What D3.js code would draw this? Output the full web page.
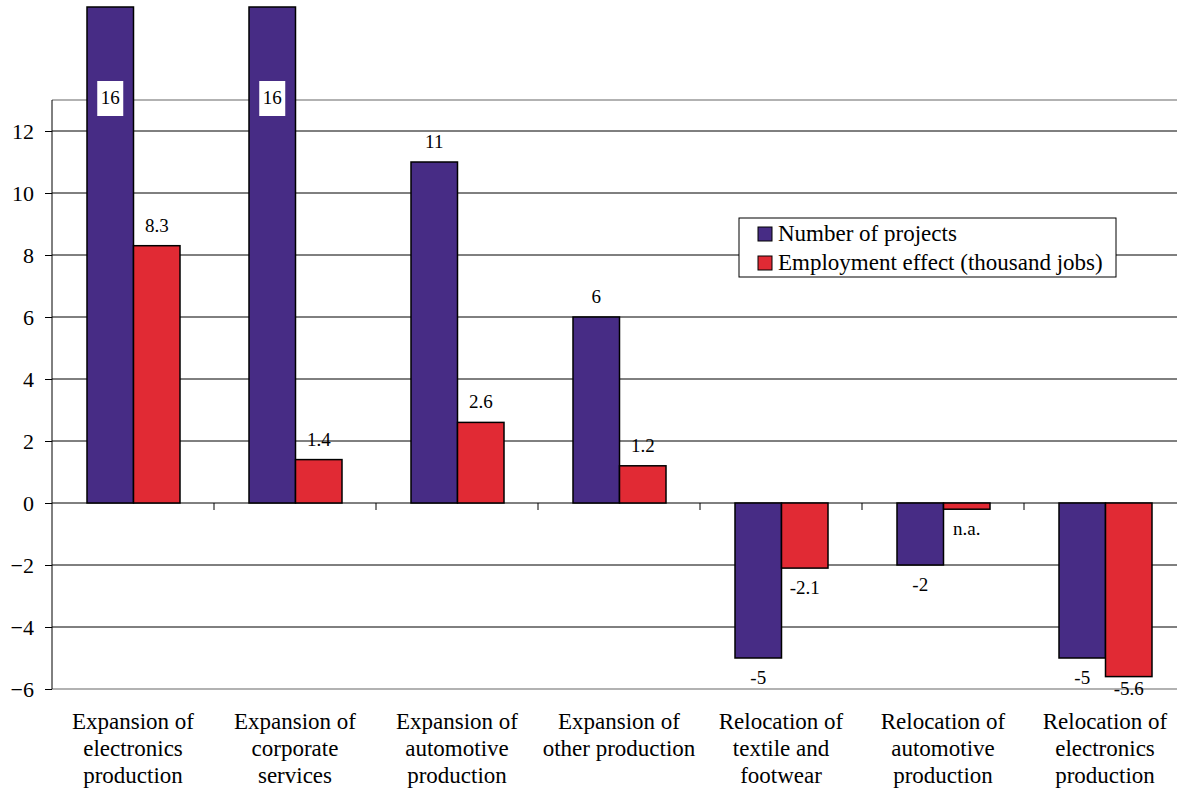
<!DOCTYPE html>
<html>
<head>
<meta charset="utf-8">
<script src="https://cdn.jsdelivr.net/npm/d3@7"></script>
</head>
<body style="margin:0">
<div id="chart"></div>
<script>
// Data
const categories = [
  ["Expansion of", "electronics", "production"],
  ["Expansion of", "corporate", "services"],
  ["Expansion of", "automotive", "production"],
  ["Expansion of", "other production"],
  ["Relocation of", "textile and", "footwear"],
  ["Relocation of", "automotive", "production"],
  ["Relocation of", "electronics", "production"]
];
const seriesNames = ["Number of projects", "Employment effect (thousand jobs)"];
const projects = [16, 16, 11, 6, -5, -2, -5];
const jobs = [8.3, 1.4, 2.6, 1.2, -2.1, -0.2, -5.6];
const jobLabels = ["8.3", "1.4", "2.6", "1.2", "-2.1", "n.a.", "-5.6"];
const yTicks = [-6, -4, -2, 0, 2, 4, 6, 8, 10, 12];
const colors = ["#472c85", "#e12a34"];

const width = 1177, height = 794;
const left = 52, plotTop = 100;
const FONT = "Liberation Serif";

const svg = d3.select("#chart")
  .append("svg")
  .attr("width", width)
  .attr("height", height)
  .style("font-family", FONT);

// Scales
const y = d3.scaleLinear()
  .domain([-6, 12])
  .range([689, 131]);

const x0 = d3.scaleBand()
  .domain(d3.range(categories.length))
  .range([left, left + 162 * categories.length])
  .padding(0);

const x1 = d3.scaleBand()
  .domain([0, 1])
  .range([35, 128]);

// Plot border top (gray)
svg.append("line")
  .attr("x1", left).attr("x2", width)
  .attr("y1", plotTop).attr("y2", plotTop)
  .attr("stroke", "#999").attr("stroke-width", 1.5);

// Gridlines
svg.append("g")
  .selectAll("line")
  .data(yTicks)
  .join("line")
  .attr("x1", left).attr("x2", width)
  .attr("y1", d => y(d)).attr("y2", d => y(d))
  .attr("stroke", d => d === -6 ? "#999" : "#000")
  .attr("stroke-width", d => d === -6 ? 1.5 : 1);

// Y axis
const yAxis = svg.append("g")
  .attr("transform", `translate(${left},0)`)
  .call(d3.axisLeft(y).tickValues(yTicks).tickSize(7).tickPadding(11).tickFormat(d3.format("d")));
yAxis.attr("font-family", null).attr("font-size", null);
yAxis.select(".domain").remove();
yAxis.selectAll("text")
  .style("font-family", FONT)
  .style("font-size", "22px")
  .attr("fill", "#000");
yAxis.selectAll("line").attr("stroke", "#000");

svg.append("line")
  .attr("x1", left).attr("x2", left)
  .attr("y1", plotTop).attr("y2", y(-6))
  .attr("stroke", "#000").attr("stroke-width", 1);

// Category ticks on zero line
svg.append("g")
  .selectAll("line")
  .data(d3.range(1, categories.length))
  .join("line")
  .attr("x1", d => x0(d)).attr("x2", d => x0(d))
  .attr("y1", y(0)).attr("y2", y(0) + 7)
  .attr("stroke", "#000");

// Bars
const rows = categories.map((c, i) => ({ i, vals: [projects[i], jobs[i]] }));

const groups = svg.append("g")
  .selectAll("g")
  .data(rows)
  .join("g")
  .attr("transform", d => `translate(${x0(d.i)},0)`);

groups.selectAll("rect")
  .data(d => d.vals.map((v, s) => ({ v, s })))
  .join("rect")
  .attr("x", d => x1(d.s))
  .attr("y", d => y(Math.max(0, d.v)))
  .attr("width", x1.bandwidth())
  .attr("height", d => Math.abs(y(d.v) - y(0)))
  .attr("fill", d => colors[d.s])
  .attr("stroke", "#000")
  .attr("stroke-width", 1.5);

// Data labels
const labelData = [];
rows.forEach(r => {
  labelData.push({ i: r.i, s: 0, v: projects[r.i], t: String(projects[r.i]) });
  labelData.push({ i: r.i, s: 1, v: jobs[r.i], t: jobLabels[r.i] });
});

labelData.forEach(d => {
  const cx = x0(d.i) + x1(d.s) + x1.bandwidth() / 2;
  let yy;
  if (d.v > 13) {
    // value beyond the plot top: label inside a white box
    svg.append("rect")
      .attr("x", cx - 13).attr("y", 81)
      .attr("width", 26).attr("height", 35)
      .attr("fill", "#fff");
    yy = 104;
  } else {
    yy = d.v >= 0 ? y(d.v) - 14 : Math.min(y(d.v) + 26, 695);
  }
  svg.append("text")
    .attr("x", cx).attr("y", yy)
    .attr("text-anchor", "middle")
    .style("font-family", FONT)
    .style("font-size", "19px")
    .text(d.t);
});

// Category labels
svg.append("g")
  .selectAll("text")
  .data(categories)
  .join("text")
  .attr("x", (d, i) => x0(i) + x0.bandwidth() / 2)
  .attr("y", 729)
  .attr("text-anchor", "middle")
  .style("font-family", FONT)
  .style("font-size", "23px")
  .selectAll("tspan")
  .data(d => d)
  .join("tspan")
  .attr("x", function() { return this.parentNode.getAttribute("x"); })
  .attr("dy", (d, i) => i === 0 ? 0 : 27)
  .text(d => d);

// Legend
const legend = svg.append("g")
  .attr("transform", "translate(739,218)");

legend.append("rect")
  .attr("width", 377).attr("height", 59)
  .attr("fill", "#fff")
  .attr("stroke", "#000").attr("stroke-width", 1);

seriesNames.forEach((name, k) => {
  legend.append("rect")
    .attr("x", 19).attr("y", 9 + k * 29)
    .attr("width", 14).attr("height", 14)
    .attr("fill", colors[k])
    .attr("stroke", "#000").attr("stroke-width", 1);
  legend.append("text")
    .attr("x", 39).attr("y", 23 + k * 29)
    .style("font-family", FONT)
    .style("font-size", "23px")
    .text(name);
});
</script>
</body>
</html>
